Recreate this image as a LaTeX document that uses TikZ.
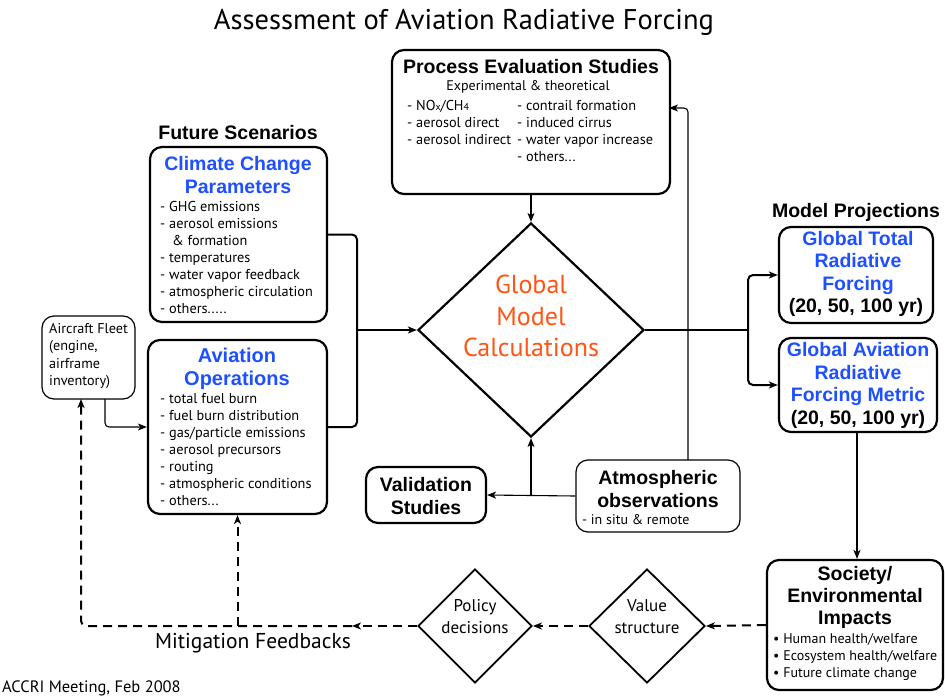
\documentclass[tikz,border=0pt]{standalone}
\usepackage{fontspec}
\setmainfont{PT Sans}
\newfontfamily\hdfont{Liberation Sans}
\usetikzlibrary{arrows.meta,shapes.geometric}
\definecolor{myblue}{RGB}{30,80,255}
\definecolor{myorange}{RGB}{255,85,20}
\begin{document}
\begin{tikzpicture}[x=1pt,y=-1pt,
  box/.style={draw, line width=2.2pt, rounded corners=12pt, inner sep=0pt},
  thinbox/.style={draw, line width=1.2pt, rounded corners=12pt, inner sep=0pt},
  dia/.style={draw, diamond, line width=2.2pt, inner sep=0pt},
  arr/.style={-{Stealth[length=9pt,width=7pt,inset=2.5pt]}},
  conn/.style={line width=2pt},
  thinconn/.style={line width=1.1pt},
  dashconn/.style={line width=2pt, dash pattern=on 9pt off 6pt},
  hd/.style={font=\hdfont\bfseries\fontsize{19.5}{22.5}\selectfont, align=center, inner sep=0pt},
  bhd/.style={font=\hdfont\bfseries\fontsize{19.5}{22.5}\selectfont, align=center, inner sep=0pt, text=myblue},
  lst/.style={font=\fontsize{14.3}{17}\selectfont, align=left, inner sep=0pt, anchor=north west},
]
\useasboundingbox (0,0) rectangle (945,696);
\fill[white] (0,0) rectangle (945,696);

% title
\node[inner sep=0pt, font=\fontsize{28.5}{32}\selectfont] (title) at (464,22) {Assessment of Aviation Radiative Forcing};

% Process Evaluation Studies
\node[box, minimum width=278pt, minimum height=144pt] (proc) at (531,122) {};
\node[hd] (proct) at (531,67) {Process Evaluation Studies};
\node[inner sep=0pt, font=\fontsize{14}{17}\selectfont] (procs) at (528,87) {Experimental \& theoretical};
\node[lst] (procl) at (407,100) {- NO{\fontsize{10}{10}\selectfont x}/CH{\fontsize{10}{10}\selectfont 4}\\- aerosol direct\\- aerosol indirect};
\node[lst] (procr) at (517,100) {- contrail formation\\- induced cirrus\\- water vapor increase\\- others...};

% Future scenarios
\node[hd] (fs) at (238,133) {Future Scenarios};
\node[box, minimum width=177pt, minimum height=175pt] (cc) at (238.5,234.5) {};
\node[bhd] (cct) at (238,175) {Climate Change\\Parameters};
\node[lst] (ccl) at (160,201) {- GHG emissions\\- aerosol emissions\\\hspace{12pt}\& formation\\- temperatures\\- water vapor feedback\\- atmospheric circulation\\- others.....};

\node[box, minimum width=179pt, minimum height=174pt] (ao) at (237.5,427) {};
\node[bhd, font=\hdfont\bfseries\fontsize{20}{23}\selectfont] (aot) at (237,368.5) {Aviation\\Operations};
\node[lst] (aol) at (160,393) {- total fuel burn\\- fuel burn distribution\\- gas/particle emissions\\- aerosol precursors\\- routing\\- atmospheric conditions\\- others...};

% Aircraft fleet
\node[thinbox, minimum width=93pt, minimum height=83pt] (af) at (88.5,357.5) {};
\node[lst, font=\fontsize{14.2}{17.5}\selectfont] (afl) at (49,323) {Aircraft Fleet\\(engine,\\airframe\\inventory)};

% Global Model Calculations
\node[dia, minimum width=226pt, minimum height=214pt] (gmc) at (531,330) {};
\node[inner sep=0pt, align=center, text=myorange, font=\fontsize{26}{31.5}\selectfont] (gmct) at (531,316) {Global\\Model\\Calculations};

% Validation & Atmospheric
\node[box, minimum width=120pt, minimum height=56pt] (vs) at (426,495) {};
\node[hd] (vst) at (426,496) {Validation\\Studies};
\node[thinbox, minimum width=164pt, minimum height=72pt] (atm) at (658,496) {};
\node[hd] (atmt) at (658,489) {Atmospheric\\observations};
\node[inner sep=0pt, font=\fontsize{14}{16}\selectfont, anchor=west] (atms) at (582,520) {- in situ \& remote};

% Model projections
\node[hd] (mp) at (856,212) {Model Projections};
\node[box, minimum width=154pt, minimum height=96pt] (gt) at (856,275) {};
\node[bhd] (gtt) at (858,262.5) {Global Total\\Radiative\\Forcing};
\node[hd] (gty) at (856,307) {(20, 50, 100 yr)};
\node[box, minimum width=158pt, minimum height=94pt] (ga) at (858,385) {};
\node[bhd] (gat) at (858,374) {Global Aviation\\Radiative\\Forcing Metric};
\node[hd] (gay) at (858,419) {(20, 50, 100 yr)};

% Society
\node[box, minimum width=176pt, minimum height=130pt] (soc) at (855,625) {};
\node[hd, font=\hdfont\bfseries\fontsize{19.5}{22}\selectfont] (soct) at (855,597) {Society/\\Environmental\\Impacts};
\node[lst, font=\fontsize{14}{17}\selectfont] (socl) at (773,633) {• Human health/welfare\\• Ecosystem health/welfare\\• Future climate change};

% decisions
\node[dia, line width=1.8pt, minimum width=116pt, minimum height=114pt] (val) at (647,626) {};
\node[inner sep=0pt, align=center, font=\fontsize{17}{22}\selectfont] (valt) at (647,617) {Value\\structure};
\node[dia, line width=1.8pt, minimum width=114pt, minimum height=114pt] (pol) at (475,626) {};
\node[inner sep=0pt, align=center, font=\fontsize{17}{22}\selectfont] (polt) at (475,617) {Policy\\decisions};

\node[inner sep=0pt, font=\fontsize{21.5}{24}\selectfont] (mft) at (253,643) {Mitigation Feedbacks};
\node[inner sep=0pt, anchor=west, font=\fontsize{16.5}{18}\selectfont] (accri) at (2,688) {ACCRI Meeting, Feb 2008};

% connectors
\draw[thinconn, arr] (proc.south) -- (gmc.north);
\coordinate (jl) at (357,330);
\draw[conn, rounded corners=5pt] (cc.east) -| (jl) |- (ao.east);
\draw[conn, arr] (jl) -- (gmc.west);
\coordinate (jr) at (748,330);
\draw[conn] (gmc.east) -- (jr);
\draw[conn, arr, rounded corners=5pt] (jr) |- (gt.west);
\draw[conn, arr, rounded corners=5pt] (jr) |- (ga.west);
\coordinate (jb) at (531,495);
\draw[thinconn, arr] (atm.west) -- (vs.east);
\draw[thinconn, arr] (jb) -- (gmc.south);
\coordinate (atop) at (688,460);
\coordinate (pin) at (669,108);
\draw[thinconn, arr, rounded corners=4pt] (atop) |- (pin);
\coordinate (afb) at (105,399);
\draw[thinconn, arr, rounded corners=4pt] (afb) |- (ao.west);
\draw[conn, arr] (ga.south -| 857,0) -- (soc.north -| 857,0);

% dashed feedbacks
\draw[dashconn, arr] (soc.west) -- (val.east);
\draw[dashconn, arr] (val.west) -- (pol.east);
\coordinate (mfa) at (352,626);
\draw[dashconn, arr] (pol.west) -- (mfa);
\coordinate (afd) at (81,399);
\draw[dashconn, arr, rounded corners=5pt] (mfa) -| (afd);
\draw[dashconn, arr] (ao.south |- mfa) -- (ao.south);
\end{tikzpicture}
\end{document}
